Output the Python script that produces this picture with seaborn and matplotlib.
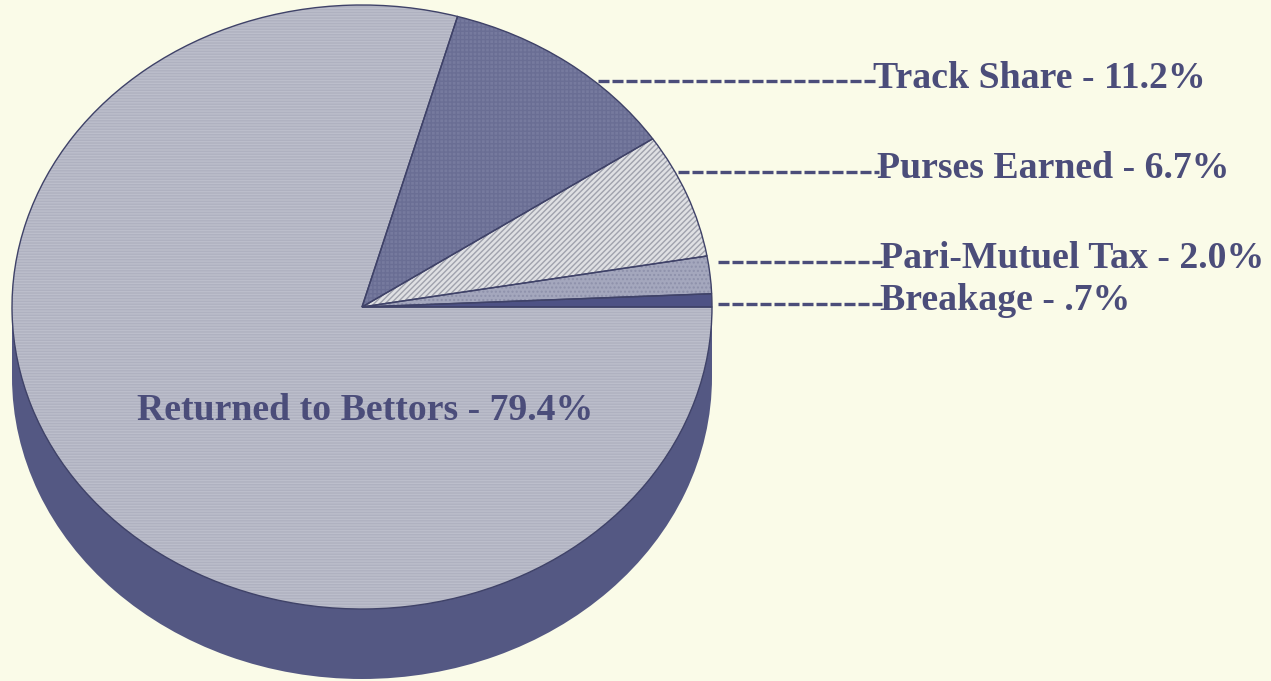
import numpy as np
import matplotlib
matplotlib.use('Agg')
import matplotlib.pyplot as plt
import seaborn as sns

# Data (percent of handle), counter-clockwise from 3 o'clock
slices = ['Breakage', 'Pari-Mutuel Tax', 'Purses Earned', 'Track Share', 'Returned to Bettors']
shares = [0.7, 2.0, 6.7, 11.2, 79.4]
labels = ['Breakage - .7%', 'Pari-Mutuel Tax - 2.0%', 'Purses Earned - 6.7%',
          'Track Share - 11.2%', 'Returned to Bettors - 79.4%']

sns.set_theme(style='white')
plt.rcParams['font.family'] = ['Liberation Serif', 'DejaVu Serif']

bg = '#fafbe8'
ink = '#4b4d7a'
side = '#545883'
face_colors = ['#4e5285', '#a4a7bd', '#dfe0e3', '#767a9e', '#bcbecb']
hatches = ['', '....', '//////', '++++', '------']
hatch_cols = ['#4e5285', '#8e91ab', '#a0a2ad', '#6a6e94', '#afb1c0']

W, H = 1271, 681
fig = plt.figure(figsize=(W / 100, H / 100), dpi=100, facecolor=bg)

# pie axes: unit circle -> ellipse rx=350px, ry=302px, depth 70px
depth = 70 / 302
cx, cy, rx = 362, 307, 350
ax = fig.add_axes([(cx - rx) / W, (H - (cy + 302 + 70)) / H, 2 * rx / W, (2 * 302 + 70) / H])
ax.set_facecolor('none')

# extruded body
ax.pie([1], colors=[side], center=(0, -depth), radius=1, startangle=0,
       wedgeprops=dict(linewidth=0), frame=False)
ax.fill_between([-1, 1], [-depth, -depth], [0, 0], color=side, linewidth=0, zorder=0.5)

# top face with textures
wedges, _ = ax.pie(shares, colors=face_colors, startangle=0, counterclock=True,
                   radius=1, wedgeprops=dict(linewidth=0), frame=False)
plt.rcParams['hatch.linewidth'] = 0.6
for w, h, hc in zip(wedges, hatches, hatch_cols):
    w.set_hatch(h)
    w.set_edgecolor(hc)
    w.set_zorder(2)
# outlines
outl, _ = ax.pie(shares, colors=['none'] * 5, startangle=0, radius=1,
                 wedgeprops=dict(linewidth=1.0, edgecolor='#3f4268', fill=False), frame=False)
for w in outl:
    w.set_zorder(3)

ax.set_aspect('auto')
ax.set_xlim(-1, 1)
ax.set_ylim(-1 - depth, 1)
ax.axis('off')

# overlay for labels in pixel coordinates
ov = fig.add_axes([0, 0, 1, 1])
ov.set_facecolor('none')
ov.set_xlim(0, W)
ov.set_ylim(H, 0)
ov.axis('off')

callouts = {
    'Track Share': (598, 81, 873, 79),
    'Purses Earned': (678, 172, 877, 169),
    'Pari-Mutuel Tax': (718, 262, 880, 259),
    'Breakage': (718, 304, 880, 301),
}
for name, lab in zip(slices, labels):
    if name in callouts:
        x0, ly, tx, ty = callouts[name]
        ov.plot([x0, tx + 2], [ly, ly], color=ink, lw=2.4, linestyle=(0, (3.3, 0.9)),
                solid_capstyle='butt', dash_capstyle='butt')
        ov.text(tx, ty, lab, color=ink, fontsize=27.2, fontweight='bold',
                ha='left', va='center')
    else:
        ov.text(137, 411, lab, color=ink, fontsize=27.2, fontweight='bold',
                ha='left', va='center')

fig.savefig('out.png', dpi=100, facecolor=bg)
